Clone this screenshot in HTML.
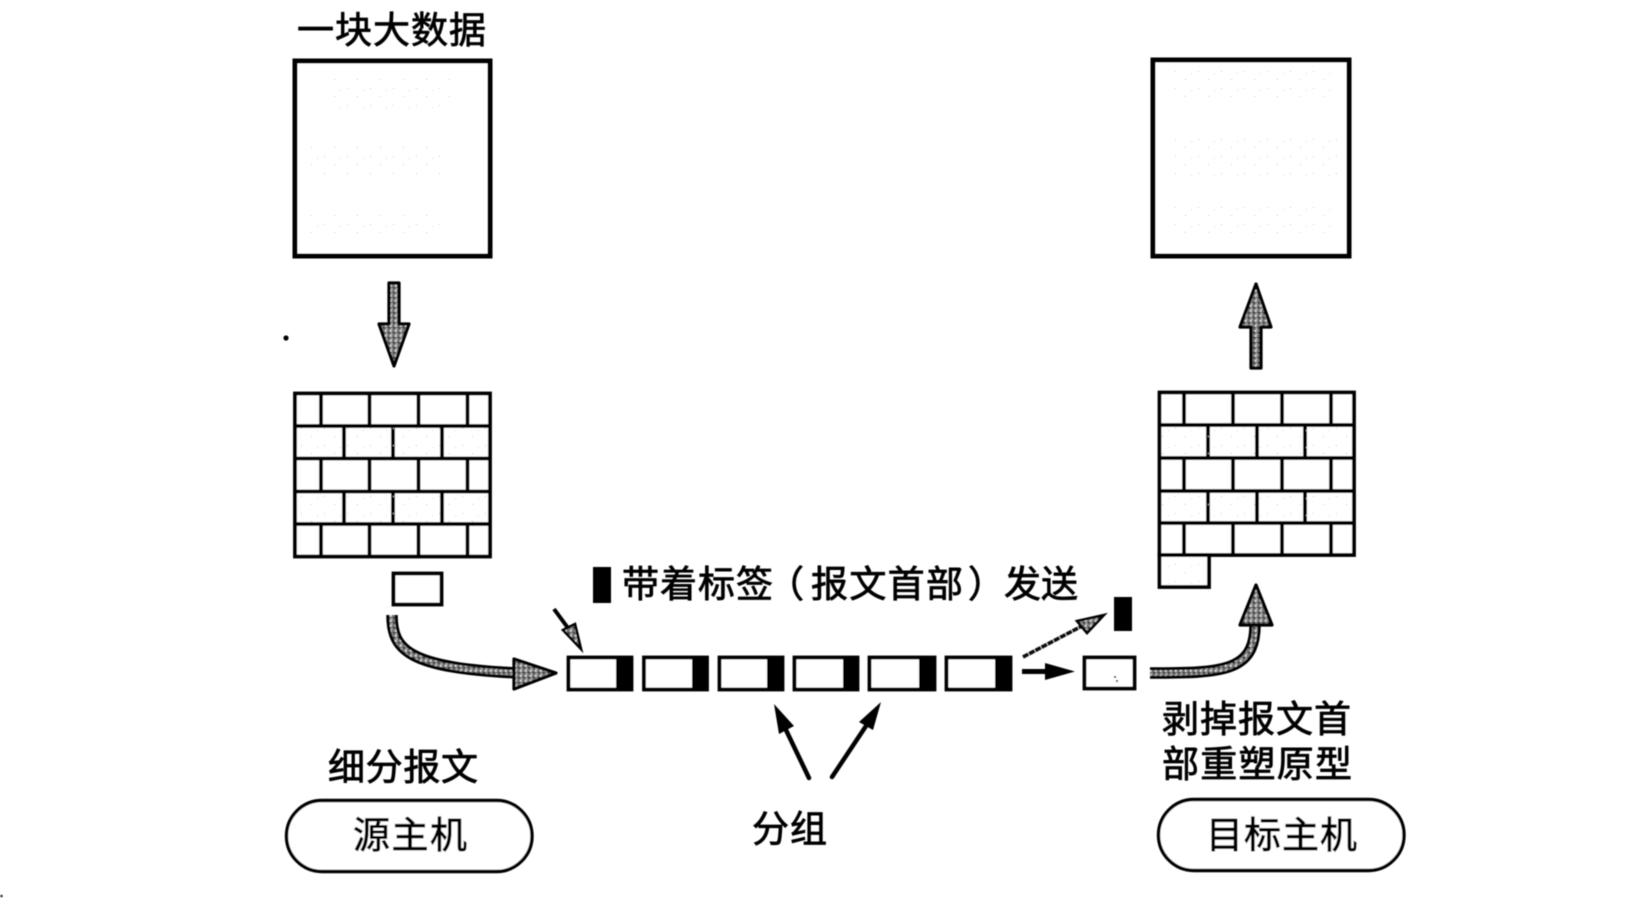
<!DOCTYPE html>
<html lang="zh">
<head>
<meta charset="utf-8">
<title>分组交换示意图</title>
<style>
html,body{margin:0;padding:0;background:#fff;width:1650px;height:898px;overflow:hidden}
svg{display:block}
text{font-family:"Liberation Sans","Noto Sans CJK SC",sans-serif;font-size:37px;fill:#000;stroke:#000;stroke-width:.8px}
</style>
</head>
<body>
<svg width="1650" height="898" viewBox="0 0 1650 898" xmlns="http://www.w3.org/2000/svg">
<defs>
<pattern id="sp" width="5" height="5" patternUnits="userSpaceOnUse">
<rect width="5" height="5" fill="#777"/>
<rect x="0" y="0" width="1.6" height="1.6" fill="#eee"/>
<rect x="3" y="2" width="1.6" height="1.6" fill="#111"/>
<rect x="1" y="3.4" width="1.2" height="1.2" fill="#ccc"/>
</pattern>
<pattern id="dots" width="23" height="17" patternUnits="userSpaceOnUse">
<rect x="2" y="3" width="1" height="1" fill="#c4c4c4"/>
<rect x="12" y="11" width="1" height="1" fill="#bbb"/>
<rect x="18" y="5" width="1" height="1" fill="#d0d0d0"/>
</pattern>
<filter id="soft" x="-5%" y="-5%" width="110%" height="110%"><feGaussianBlur stdDeviation="0.45"/></filter>
</defs>
<rect width="1650" height="898" fill="#fff"/>
<g filter="url(#soft)">
<!-- top boxes -->
<rect x="295" y="61" width="195" height="195" fill="#fff" stroke="#000" stroke-width="5"/>
<rect x="1153" y="60" width="196" height="196" fill="#fff" stroke="#000" stroke-width="5"/>
<rect x="330" y="78" width="120" height="30" fill="url(#dots)"/>
<rect x="310" y="145" width="130" height="30" fill="url(#dots)"/>
<rect x="310" y="215" width="130" height="25" fill="url(#dots)"/>
<rect x="1170" y="70" width="160" height="30" fill="url(#dots)"/>
<rect x="1170" y="135" width="170" height="45" fill="url(#dots)"/>
<rect x="1170" y="200" width="160" height="40" fill="url(#dots)"/>

<!-- down / up arrows -->
<polygon points="389,283 399,283 399,324 409,324 394,366 379,324 389,324" fill="url(#sp)" stroke="#000" stroke-width="3.2" stroke-linejoin="round"/>
<polygon points="1256,284 1271,327 1261,327 1261,368 1251,368 1251,327 1240,327" fill="url(#sp)" stroke="#000" stroke-width="3.2" stroke-linejoin="round"/>
<circle cx="286" cy="338" r="2.6" fill="#000"/>
<circle cx="1.5" cy="896" r="1.3" fill="#333"/>

<!-- left wall -->
<g fill="none" stroke="#000" stroke-width="3.8">
<rect x="295" y="393.5" width="195" height="163" fill="#fff"/>
<path d="M295 426H490M295 458.5H490M295 491.5H490M295 524H490"/>
<path d="M321 393.5V426M369.5 393.5V426M418.5 393.5V426M467.5 393.5V426"/>
<path d="M344 426V458.5M393 426V458.5M442 426V458.5"/>
<path d="M321 458.5V491.5M369.5 458.5V491.5M418.5 458.5V491.5M467.5 458.5V491.5"/>
<path d="M344 491.5V524M393 491.5V524M442 491.5V524"/>
<path d="M321 524V556.5M369.5 524V556.5M418.5 524V556.5M467.5 524V556.5"/>
<rect x="393.5" y="573.5" width="48" height="31" fill="#fff"/>
</g>
<rect x="298" y="428" width="190" height="28" fill="url(#dots)"/>
<rect x="298" y="494" width="190" height="28" fill="url(#dots)"/>

<!-- right wall -->
<g fill="none" stroke="#000" stroke-width="3.8">
<rect x="1159.5" y="392.5" width="194.5" height="162.5" fill="#fff"/>
<path d="M1159.5 425H1354M1159.5 458H1354M1159.5 491H1354M1159.5 523H1354"/>
<path d="M1184 392.5V425M1233 392.5V425M1282 392.5V425M1331 392.5V425"/>
<path d="M1208 425V458M1257 425V458M1305 425V458"/>
<path d="M1184 458V491M1233 458V491M1282 458V491M1331 458V491"/>
<path d="M1208 491V523M1257 491V523M1305 491V523"/>
<path d="M1184 523V555M1233 523V555M1282 523V555M1331 523V555"/>
<rect x="1159.5" y="555" width="49.5" height="32" fill="#fff"/>
</g>
<rect x="1162" y="427" width="190" height="29" fill="url(#dots)"/>
<rect x="1162" y="493" width="190" height="28" fill="url(#dots)"/>
<rect x="1163" y="558" width="44" height="27" fill="url(#dots)"/>

<!-- curved arrows -->
<path d="M392 615C392 650 408 668 518 673" fill="none" stroke="#000" stroke-width="11.5"/>
<path d="M392 615C392 650 408 668 518 673" fill="none" stroke="url(#sp)" stroke-width="5.5"/>
<polygon points="514,659 556,673 514,689" fill="url(#sp)" stroke="#000" stroke-width="3.2" stroke-linejoin="round"/>
<path d="M1150 673C1222 673 1255 672 1255 625" fill="none" stroke="#000" stroke-width="11.5"/>
<path d="M1150 673C1222 673 1255 672 1255 625" fill="none" stroke="url(#sp)" stroke-width="5.5"/>
<polygon points="1256,585 1272,625 1240,625" fill="url(#sp)" stroke="#000" stroke-width="3.2" stroke-linejoin="round"/>

<!-- thin textured arrows -->
<line x1="554" y1="609" x2="568" y2="628" stroke="#000" stroke-width="4"/>
<polygon points="581,649 563,630 575,624" fill="url(#sp)" stroke="#000" stroke-width="2.6"/>
<line x1="1023" y1="657" x2="1082" y2="626" stroke="#111" stroke-width="3.6" stroke-dasharray="6 1"/>
<polygon points="1104,615 1077,621 1087,633" fill="url(#sp)" stroke="#000" stroke-width="2.6"/>

<!-- tags -->
<rect x="593" y="567" width="18" height="36" fill="#000"/>
<rect x="1114" y="597" width="18" height="34" fill="#000"/>

<!-- packets -->
<g stroke="#000" stroke-width="3.8" fill="#fff">
<rect x="568.5" y="657.5" width="63" height="32"/>
<rect x="644" y="657.5" width="63" height="32"/>
<rect x="719.5" y="657.5" width="63" height="32"/>
<rect x="794.5" y="657.5" width="63" height="32"/>
<rect x="869.5" y="657.5" width="65" height="32"/>
<rect x="946.5" y="657.5" width="64" height="32"/>
<rect x="1084.5" y="657.5" width="50" height="31"/>
</g>
<g fill="#000">
<rect x="616" y="656" width="17" height="35"/>
<rect x="692" y="656" width="16" height="35"/>
<rect x="767" y="656" width="17" height="35"/>
<rect x="843" y="656" width="16" height="35"/>
<rect x="919" y="656" width="17" height="35"/>
<rect x="995" y="656" width="17" height="35"/>
</g>
<rect x="1114" y="676" width="2" height="2" fill="#444"/>
<rect x="1116" y="680" width="2" height="2" fill="#444"/>

<!-- straight black arrow -->
<line x1="1022" y1="671.5" x2="1050" y2="671.5" stroke="#000" stroke-width="5"/>
<polygon points="1045,663 1075,671.5 1045,680" fill="#000"/>

<!-- group arrows -->
<line x1="809" y1="778" x2="786" y2="730" stroke="#000" stroke-width="4.5" stroke-linecap="round"/>
<polygon points="774,704 794,726 779,734" fill="#000"/>
<line x1="832" y1="777" x2="866" y2="726" stroke="#000" stroke-width="4.5" stroke-linecap="round"/>
<polygon points="881,702 873,730 859,722" fill="#000"/>

<!-- pills -->
<rect x="286.5" y="800.5" width="245.5" height="71" rx="35.5" ry="35.5" fill="#fff" stroke="#000" stroke-width="3.4"/>
<rect x="1158.5" y="799.5" width="245.5" height="71" rx="35.5" ry="35.5" fill="#fff" stroke="#000" stroke-width="3.4"/>

<!-- labels -->
<text x="297" y="43" textLength="189" lengthAdjust="spacing">一块大数据</text>
<text x="622" y="597" textLength="151" lengthAdjust="spacing">带着标签</text>
<text x="767" y="597">（</text>
<text x="811" y="597" textLength="152" lengthAdjust="spacing">报文首部</text>
<text x="968" y="597">）</text>
<text x="1004" y="597" textLength="74" lengthAdjust="spacing">发送</text>
<text x="328" y="780" textLength="150" lengthAdjust="spacing">细分报文</text>
<text x="353" y="848" textLength="114" lengthAdjust="spacing">源主机</text>
<text x="752" y="842" textLength="75" lengthAdjust="spacing">分组</text>
<text x="1162" y="732" textLength="189" lengthAdjust="spacing">剥掉报文首</text>
<text x="1162" y="777" textLength="190" lengthAdjust="spacing">部重塑原型</text>
<text x="1206" y="848" textLength="151" lengthAdjust="spacing">目标主机</text>
</g>
</svg>
</body>
</html>
